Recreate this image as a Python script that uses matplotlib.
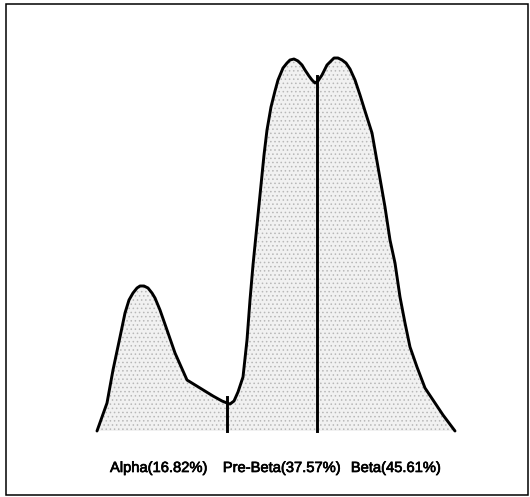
import numpy as np
import matplotlib
matplotlib.use("Agg")
import matplotlib.pyplot as plt
from matplotlib.patches import Rectangle
import matplotlib.patheffects as pe

# Densitometry scan: position along the strip (arb. units) and optical density (arb. units)
position = [0, 5, 10, 16, 23, 28, 32, 36, 40, 43, 47, 51, 55, 58, 63, 70, 78, 90, 103,
            116, 125, 130, 133, 137, 141, 146, 150, 153, 156, 159, 163, 167, 170, 174,
            178, 181, 186, 190, 193, 197, 201, 205, 208, 212, 215, 218, 221, 225, 230,
            234, 237, 241, 245, 249, 253, 258, 263, 268, 275, 281, 288, 293, 298, 303,
            308, 313, 320, 328, 336, 346, 358]
density = [0, 14, 28, 61, 94, 118, 131, 138, 143, 145, 145, 143, 138, 133, 121, 101, 78,
           51, 43, 35, 30, 28, 27, 30, 39, 54, 91, 131, 166, 196, 236, 276, 301, 324,
           340, 351, 363, 368, 371, 372, 370, 366, 361, 355, 351, 348, 350, 356, 366,
           370, 373, 373, 371, 368, 362, 351, 336, 320, 298, 264, 224, 191, 168, 134,
           108, 84, 64, 43, 31, 16, 0]

# Fraction boundaries (positions of the separating lines)
dividers = [130, 219.5]

# Fraction labels
fractions = ["Alpha", "Pre-Beta", "Beta"]
percents = [16.82, 37.57, 45.61]
label_pos = [62, 185, 299]

fig = plt.figure(figsize=(5.30, 4.97), dpi=100)
ax = fig.add_axes([0, 0, 1, 1])
ax.set_xlim(-97, 433)
ax.set_ylim(-66, 431)
ax.axis("off")

plt.rcParams["hatch.linewidth"] = 0.6
ax.fill_between(position, 0, density, facecolor="#f1f1f1", edgecolor="#b8b8b8",
                hatch="....", linewidth=0, zorder=1)
ax.plot(position, density, color="black", lw=2.1, solid_joinstyle="round",
        solid_capstyle="round", zorder=3)

for d in dividers:
    top = np.interp(d, position, density) + 6
    ax.plot([d, d], [0, top], color="black", lw=2.1, zorder=3)

for name, pct, xp in zip(fractions, percents, label_pos):
    ax.text(xp, -37, f"{name}({pct:.2f}%)", ha="center", va="center",
            fontsize=10.6, family="Liberation Sans", color="black",
            path_effects=[pe.withStroke(linewidth=0.5, foreground="black")])

fig.patches.append(Rectangle((6 / 530, 2 / 497), 522 / 530, 491 / 497,
                             transform=fig.transFigure, fill=False,
                             edgecolor="black", lw=1.1))

fig.savefig("out.png", dpi=100, facecolor="white")
